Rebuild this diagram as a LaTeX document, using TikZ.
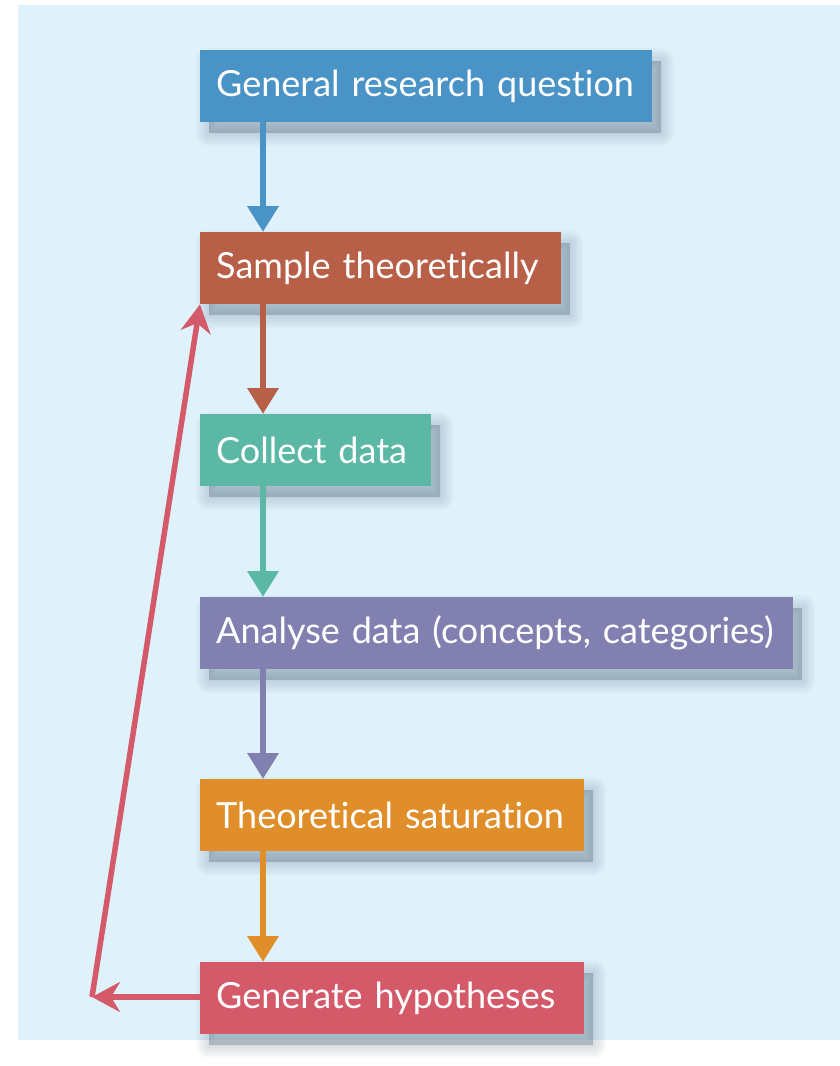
\documentclass[tikz,border=0pt]{standalone}
\usepackage{fontspec}
\setmainfont{Lato}[Ligatures={NoCommon}]
\usetikzlibrary{arrows.meta}
\definecolor{bgc}{HTML}{DFF1FB}
\definecolor{shc}{HTML}{40566A}
\definecolor{c1}{HTML}{4A93C6}
\definecolor{c2}{HTML}{B75F47}
\definecolor{c3}{HTML}{5BB8A5}
\definecolor{c4}{HTML}{8280B0}
\definecolor{c5}{HTML}{E08E2A}
\definecolor{c6}{HTML}{D45A69}
\tikzset{
  shlayer/.style={preaction={fill=shc, fill opacity=0.055, draw=shc, draw opacity=0.035,
     line width=#1, line join=round, transform canvas={shift={(9pt,-11pt)}}}},
  myshadow/.style={shlayer=26pt, shlayer=21pt, shlayer=16pt, shlayer=11pt, shlayer=6pt, shlayer=1pt},
  stepbox/.style={anchor=north west, minimum height=72pt, inner xsep=16pt, inner ysep=0pt,
    text=white, font=\fontsize{36}{40}\selectfont, align=left, myshadow},
  flow/.style={line width=6.5pt, -{Triangle[width=30pt,length=26pt]}},
  back/.style={line width=5.5pt, c6, -{Stealth[width=30pt,length=28pt,inset=9pt]}}
}
\begin{document}
\begin{tikzpicture}[x=1pt,y=-1pt]
\useasboundingbox (0,0) rectangle (840,1066);
\fill[white] (0,0) rectangle (840,1066);
\fill[bgc] (18,5) rectangle (840,1040);
\node[stepbox, fill=c1, text width=420pt] (q) at (200,50) {General research question};
\node[stepbox, fill=c2, text width=329pt] (s) at (200,232) {Sample theoretically};
\node[stepbox, fill=c3, text width=199pt] (c) at (200,414) {Collect data};
\node[stepbox, fill=c4, text width=561pt] (a) at (200,597) {Analyse data (concepts, categories)};
\node[stepbox, fill=c5, text width=352pt] (t) at (200,779) {Theoretical saturation};
\node[stepbox, fill=c6, text width=352pt] (g) at (200,962) {Generate hypotheses};
\coordinate (k) at (92,997);
\draw[flow, c1] (q.south west) ++(63,0) coordinate (q1) -- (q1 |- s.north);
\draw[flow, c2] (s.south west) ++(63,0) coordinate (s1) -- (s1 |- c.north);
\draw[flow, c3] (c.south west) ++(63,0) coordinate (c1p) -- (c1p |- a.north);
\draw[flow, c4] (a.south west) ++(63,0) coordinate (a1) -- (a1 |- t.north);
\draw[flow, c5] (t.south west) ++(63,0) coordinate (t1) -- (t1 |- g.north);
\draw[back] (g.west |- k) -- (k);
\draw[back] (k) -- (s.south west);
\end{tikzpicture}
\end{document}
